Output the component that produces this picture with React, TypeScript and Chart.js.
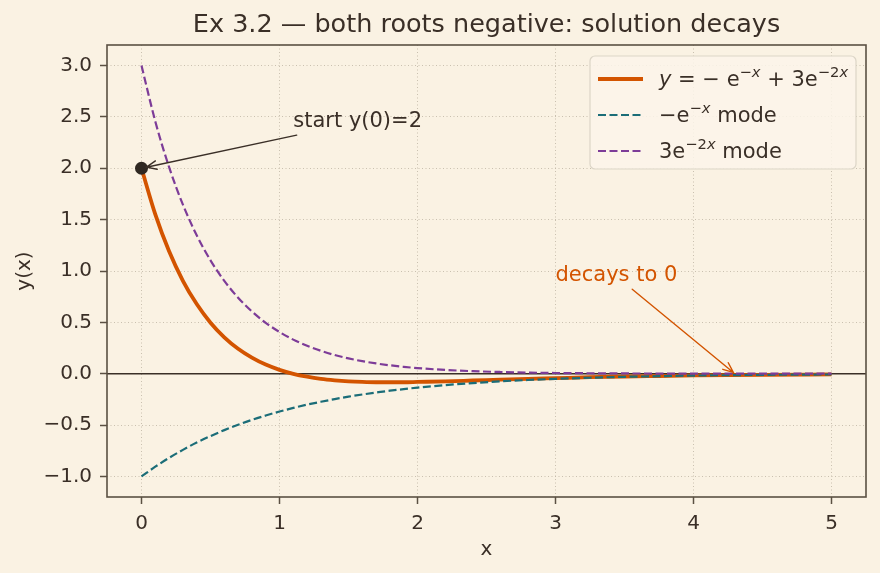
import { useEffect, useRef } from 'react';
import { Chart, registerables } from 'chart.js';

Chart.register(...registerables);

// ---- data ----
const xValues = [0, 0.1, 0.2, 0.3, 0.4, 0.5, 0.6, 0.7, 0.8, 0.9, 1.0, 1.1, 1.2, 1.3, 1.4, 1.5, 1.6, 1.7, 1.8, 1.9, 2.0,
  2.2, 2.4, 2.6, 2.8, 3.0, 3.25, 3.5, 3.75, 4.0, 4.5, 5.0];
const solutionValues = [2.0, 1.551, 1.192, 0.905, 0.678, 0.497, 0.355, 0.243, 0.157, 0.089, 0.038, -0.001, -0.029, -0.05,
  -0.064, -0.074, -0.08, -0.083, -0.083, -0.083, -0.08, -0.074, -0.066, -0.058, -0.05, -0.043, -0.034, -0.027, -0.022,
  -0.017, -0.011, -0.007];
const negModeValues = [-1.0, -0.905, -0.819, -0.741, -0.67, -0.607, -0.549, -0.497, -0.449, -0.407, -0.368, -0.333, -0.301,
  -0.273, -0.247, -0.223, -0.202, -0.183, -0.165, -0.15, -0.135, -0.111, -0.091, -0.074, -0.061, -0.05, -0.039, -0.03,
  -0.024, -0.018, -0.011, -0.007];
const posModeValues = [3.0, 2.456, 2.011, 1.646, 1.348, 1.104, 0.904, 0.74, 0.606, 0.496, 0.406, 0.332, 0.272, 0.223,
  0.182, 0.149, 0.122, 0.1, 0.082, 0.067, 0.055, 0.037, 0.025, 0.017, 0.011, 0.007, 0.0045, 0.0027, 0.0017, 0.001,
  0.0004, 0.0001];
const xTicks = [0, 1, 2, 3, 4, 5];
const yTicks = [-1.0, -0.5, 0.0, 0.5, 1.0, 1.5, 2.0, 2.5, 3.0];
const startPoint = { x: 0, y: 2 };
const startLabel = { text: 'start y(0)=2', x: 1.1, y: 2.4 };
const decayTarget = { x: 4.3, y: 0 };
const decayLabel = { text: 'decays to 0', x: 3.0, y: 0.9 };
const titleText = 'Ex 3.2 — both roots negative: solution decays';

// ---- styles ----
const BG = '#faf2e3';
const TEXT = '#3a2f27';
const FRAME = '#5b5043';
const GRID = '#bdb3a2';
const ORANGE = '#d35400';
const TEAL = '#1b6d78';
const PURPLE = '#7d3c98';
const FONT = '"DejaVu Sans", "Liberation Sans", sans-serif';
const DASH = [8, 3.5];

type Seg = { t: string; it?: boolean; sup?: boolean };

function drawSegs(ctx: CanvasRenderingContext2D, x: number, y: number, segs: Seg[], size: number) {
  let cx = x;
  ctx.textAlign = 'left';
  ctx.textBaseline = 'alphabetic';
  for (const s of segs) {
    const fs = s.sup ? size * 0.7 : size;
    ctx.font = `${s.it ? 'oblique ' : ''}${fs}px ${FONT}`;
    const dy = s.sup ? -size * 0.45 : 0;
    ctx.fillText(s.t, cx, y + dy);
    cx += ctx.measureText(s.t).width;
  }
}

function arrow(ctx: CanvasRenderingContext2D, x1: number, y1: number, x2: number, y2: number, color: string) {
  const ang = Math.atan2(y2 - y1, x2 - x1);
  ctx.save();
  ctx.strokeStyle = color;
  ctx.lineWidth = 1.4;
  ctx.lineCap = 'round';
  ctx.beginPath();
  ctx.moveTo(x1, y1);
  ctx.lineTo(x2, y2);
  const hl = 11;
  const ha = 0.4;
  ctx.moveTo(x2 - hl * Math.cos(ang - ha), y2 - hl * Math.sin(ang - ha));
  ctx.lineTo(x2, y2);
  ctx.lineTo(x2 - hl * Math.cos(ang + ha), y2 - hl * Math.sin(ang + ha));
  ctx.stroke();
  ctx.restore();
}

function annotate(chart: any, label: { text: string; x: number; y: number }, target: { x: number; y: number }, color: string, shrink: number) {
  const ctx: CanvasRenderingContext2D = chart.ctx;
  const xs = chart.scales.x;
  const ys = chart.scales.y;
  const tx = xs.getPixelForValue(label.x);
  const ty = ys.getPixelForValue(label.y);
  ctx.save();
  ctx.font = `21px ${FONT}`;
  ctx.fillStyle = color;
  ctx.textAlign = 'left';
  ctx.textBaseline = 'alphabetic';
  ctx.fillText(label.text, tx, ty);
  const w = ctx.measureText(label.text).width;
  ctx.restore();
  const bx0 = tx - 2, bx1 = tx + w + 2, by0 = ty - 18, by1 = ty + 8;
  const cx = (bx0 + bx1) / 2, cy = (by0 + by1) / 2;
  const px = xs.getPixelForValue(target.x);
  const py = ys.getPixelForValue(target.y);
  const dx = px - cx, dy = py - cy;
  let t = 1;
  if (dx !== 0) t = Math.min(t, Math.abs((dx > 0 ? bx1 - cx : bx0 - cx) / dx));
  if (dy !== 0) t = Math.min(t, Math.abs((dy > 0 ? by1 - cy : by0 - cy) / dy));
  const sx = cx + dx * t, sy = cy + dy * t;
  const len = Math.hypot(px - sx, py - sy);
  const ex = px - (px - sx) / len * shrink, ey = py - (py - sy) / len * shrink;
  arrow(ctx, sx, sy, ex, ey, color);
}

const decorPlugin = {
  id: 'decor',
  beforeDraw(chart: any) {
    const ctx = chart.ctx;
    ctx.save();
    ctx.fillStyle = BG;
    ctx.fillRect(0, 0, chart.width, chart.height);
    ctx.restore();
  },
  beforeDatasetsDraw(chart: any) {
    const ctx = chart.ctx;
    const a = chart.chartArea;
    const y0 = chart.scales.y.getPixelForValue(0);
    ctx.save();
    ctx.strokeStyle = TEXT;
    ctx.lineWidth = 1.4;
    ctx.beginPath();
    ctx.moveTo(a.left, y0);
    ctx.lineTo(a.right, y0);
    ctx.stroke();
    ctx.restore();
  },
  afterDraw(chart: any) {
    const ctx: CanvasRenderingContext2D = chart.ctx;
    const a = chart.chartArea;
    ctx.save();
    ctx.strokeStyle = FRAME;
    ctx.lineWidth = 1.6;
    ctx.strokeRect(a.left, a.top, a.right - a.left, a.bottom - a.top);
    ctx.restore();
    ctx.save();
    ctx.fillStyle = TEXT;
    ctx.font = `25.5px ${FONT}`;
    ctx.textAlign = 'center';
    ctx.textBaseline = 'middle';
    ctx.fillText(titleText, (a.left + a.right) / 2, 25);
    ctx.font = `20px ${FONT}`;
    ctx.fillText('x', (a.left + a.right) / 2, 550);
    ctx.translate(25, (a.top + a.bottom) / 2);
    ctx.rotate(-Math.PI / 2);
    ctx.fillText('y(x)', 0, 0);
    ctx.restore();
    annotate(chart, startLabel, startPoint, TEXT, 5);
    annotate(chart, decayLabel, decayTarget, ORANGE, 2);
    ctx.save();
    const lx = 590, ly = 56, lw = 266, lh = 113;
    ctx.fillStyle = 'rgba(251,245,234,0.85)';
    ctx.strokeStyle = '#dcd5c7';
    ctx.lineWidth = 1.2;
    ctx.beginPath();
    (ctx as any).roundRect(lx, ly, lw, lh, 5);
    ctx.fill();
    ctx.stroke();
    const rows = [
      { y: 79, color: ORANGE, width: 3.8, dash: [] as number[], segs: [
        { t: 'y', it: true }, { t: ' = − e' }, { t: '−', sup: true }, { t: 'x', sup: true, it: true },
        { t: ' + 3e' }, { t: '−2', sup: true }, { t: 'x', sup: true, it: true }] as Seg[] },
      { y: 115, color: TEAL, width: 2.2, dash: DASH, segs: [
        { t: '−e' }, { t: '−', sup: true }, { t: 'x', sup: true, it: true }, { t: ' mode' }] as Seg[] },
      { y: 151, color: PURPLE, width: 2.2, dash: DASH, segs: [
        { t: '3e' }, { t: '−2', sup: true }, { t: 'x', sup: true, it: true }, { t: ' mode' }] as Seg[] },
    ];
    for (const r of rows) {
      ctx.strokeStyle = r.color;
      ctx.lineWidth = r.width;
      ctx.setLineDash(r.dash);
      ctx.beginPath();
      ctx.moveTo(598, r.y);
      ctx.lineTo(643, r.y);
      ctx.stroke();
      ctx.setLineDash([]);
      ctx.fillStyle = TEXT;
      drawSegs(ctx, 659, r.y + 7, r.segs, 21);
    }
    ctx.restore();
  },
};

function fmt(v: number, digits: number) {
  return v.toFixed(digits).replace('-', '−');
}

export default function App() {
  const ref = useRef<HTMLCanvasElement | null>(null);
  useEffect(() => {
    document.body.style.margin = '0';
    if (!ref.current) return;
    const pts = (ys: number[]) => xValues.map((x, i) => ({ x, y: ys[i] }));
    const gridOpts: any = { color: GRID, lineWidth: 0.8, drawTicks: true, tickLength: 7, tickColor: FRAME, tickWidth: 1.5 };
    const chart = new Chart(ref.current, {
      type: 'line',
      data: {
        datasets: [
          {
            data: [startPoint],
            showLine: false,
            pointRadius: 6.5,
            pointBackgroundColor: '#2f2822',
            pointBorderWidth: 0,
            order: 0,
          } as any,
          {
            data: pts(posModeValues),
            borderColor: PURPLE,
            borderWidth: 2.2,
            borderDash: DASH,
            pointRadius: 0,
            cubicInterpolationMode: 'monotone',
            order: 1,
          },
          {
            data: pts(negModeValues),
            borderColor: TEAL,
            borderWidth: 2.2,
            borderDash: DASH,
            pointRadius: 0,
            cubicInterpolationMode: 'monotone',
            order: 2,
          },
          {
            data: pts(solutionValues),
            borderColor: ORANGE,
            borderWidth: 3.8,
            pointRadius: 0,
            cubicInterpolationMode: 'monotone',
            order: 3,
          },
        ],
      },
      options: {
        responsive: false,
        animation: false,
        layout: { padding: { top: 45, right: 14, left: 0, bottom: 0 } },
        plugins: { legend: { display: false }, title: { display: false }, tooltip: { enabled: false } },
        events: [],
        scales: {
          x: {
            type: 'linear',
            min: -0.25,
            max: 5.25,
            afterBuildTicks: (s: any) => { s.ticks = xTicks.map((v) => ({ value: v })); },
            afterFit: (s: any) => { s.height = 76; },
            grid: gridOpts,
            border: { display: false, dash: [1, 2.5] },
            ticks: {
              color: TEXT,
              font: { family: FONT, size: 20 },
              padding: 8,
              maxRotation: 0,
              autoSkip: false,
              callback: (v: any) => fmt(Number(v), 0),
            },
          },
          y: {
            type: 'linear',
            min: -1.2,
            max: 3.2,
            afterBuildTicks: (s: any) => { s.ticks = yTicks.map((v) => ({ value: v })); },
            afterFit: (s: any) => { s.width = 107; },
            grid: gridOpts,
            border: { display: false, dash: [1, 2.5] },
            ticks: {
              color: TEXT,
              font: { family: FONT, size: 20 },
              padding: 8,
              autoSkip: false,
              callback: (v: any) => fmt(Number(v), 1),
            },
          },
        },
      },
      plugins: [decorPlugin],
    });
    return () => chart.destroy();
  }, []);
  return (
    <div style={{ width: 880, height: 573 }}>
      <canvas ref={ref} width={880} height={573} style={{ display: 'block' }} />
    </div>
  );
}
